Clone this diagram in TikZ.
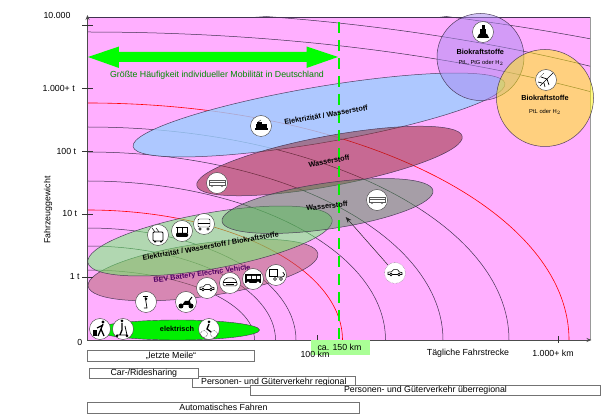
\documentclass[tikz,border=0pt]{standalone}
\usepackage{fontspec}
\setmainfont{Liberation Sans}
\usetikzlibrary{arrows.meta}
\definecolor{rosa}{RGB}{255,175,255}
\definecolor{bogen}{RGB}{65,50,80}
\definecolor{blaufl}{RGB}{154,207,255}
\definecolor{rotfl}{RGB}{145,37,41}
\definecolor{bevfl}{RGB}{177,97,105}
\definecolor{gruenfl}{RGB}{100,255,100}
\definecolor{grauffl}{RGB}{79,143,81}
\definecolor{lilafl}{RGB}{169,137,241}
\definecolor{knall}{RGB}{0,240,0}
\definecolor{schrift}{RGB}{0,140,0}
\definecolor{bevtext}{RGB}{80,0,100}
\definecolor{hellgr}{RGB}{170,255,150}
\tikzset{
  fl/.style={draw=bogen,line width=0.5pt,fill opacity=0.5,draw opacity=0.9},
  lab/.style={inner sep=0pt,font=\fontsize{8.8}{10}\selectfont},
  elab/.style={inner sep=0pt,font=\bfseries\fontsize{7.3}{8}\selectfont},
  klein/.style={inner sep=0pt,font=\fontsize{5.8}{7}\selectfont},
  stripe/.style={draw=black!55,fill=white,line width=0.8pt,inner sep=0pt,font=\fontsize{8.8}{10}\selectfont},
  icon/.style={circle,draw=black!75,fill=white,minimum size=21pt,inner sep=0pt,line width=0.4pt},
  pics/zug/.style={code={
    \fill (-6,-4) rectangle (7,-2.5); \fill (-5,-2.5) rectangle (6,1.5); \fill (-4,1.5) rectangle (1,4);
    \draw[line width=0.3pt] (-3,4) -- (0,6);}},
  pics/kasten/.style={code={
    \draw[black!65,line width=0.3pt] (-8,-2.5) rectangle (8,2.5); \draw[black!65,line width=0.3pt] (-8,0.5) -- (8,0.5);
    \draw[black!65,line width=0.3pt] (-5,-3) circle (0.9) (5,-3) circle (0.9);}},
  pics/trolley/.style={code={
    \draw[line width=0.8pt,rounded corners=1pt] (-5,-6) rectangle (5,3);
    \draw[line width=0.5pt] (-3,3) -- (-6,7) (1,3) -- (-2,7);
    \fill (-4,-7.5) rectangle (-2,-6) (2,-7.5) rectangle (4,-6);}},
  pics/tram/.style={code={
    \draw[line width=0.8pt] (-6,4) -- (6,4) (0,4) -- (0,-2);
    \fill[rounded corners=1pt] (-6,-6) rectangle (6,-2);
    \draw[line width=0.8pt] (-5,-2) -- (-5,4) (5,-2) -- (5,4);}},
  pics/front/.style={code={
    \draw[line width=0.4pt,rounded corners=1pt] (-6,-3) rectangle (6,5); \draw[line width=0.4pt] (-6,1) -- (6,1);
    \draw[line width=0.5pt] (-4,-5) circle (1.2) (4,-5) circle (1.2);}},
  pics/roller/.style={code={
    \draw[line width=0.7pt] (-1,6) -- (1,-6) -- (-2,-6); \fill (0,3) circle (1.5);
    \draw[line width=0.4pt] (-3,6) -- (2,6);}},
  pics/krad/.style={code={
    \fill (-5,-4) circle (2.5) (5,-4) circle (2.5);
    \fill (-4,-3) -- (-1,1) -- (4,1) -- (5,-3) -- cycle; \draw[line width=1pt] (3,1) -- (6,5);}},
  pics/auto/.style={code={
    \draw[line width=0.6pt,fill=white] (-7,-1.5) -- (-7,0.8) -- (-3.5,1.2) -- (-1.5,3.3) -- (2.5,3.3) -- (4.5,1) -- (7,0.3) -- (7,-1.5) -- cycle;
    \draw[line width=0.6pt,fill=white] (-4,-1.5) circle (1.4) (4,-1.5) circle (1.4);}},
  pics/carfront/.style={code={
    \draw[line width=0.5pt,rounded corners=1.5pt] (-7,-3) -- (-7,1) -- (-4,5) -- (4,5) -- (7,1) -- (7,-3) -- cycle;
    \draw[line width=0.5pt] (-7,1) -- (7,1) (-4,-1) -- (4,-1);}},
  pics/bus/.style={code={
    \fill (-8,-4) rectangle (8,5); \fill[white] (-6,0) rectangle (-2,3) (-1,0) rectangle (3,3) (4,0) rectangle (7,3);
    \fill[white] (-5,-4) circle (1.6) (5,-4) circle (1.6);}},
  pics/laster/.style={code={
    \draw[line width=0.5pt] (-7,-1) rectangle (1,6); \draw[line width=0.7pt] (1,-2) -- (6,-2) arc (-90:70:2.5);
    \draw[line width=0.5pt] (-1,-4) circle (1.5) (5,-4) circle (1.5);}},
  pics/geher/.style={code={
    \fill (3,7) circle (1.6); \draw[line width=1.3pt] (3,5) -- (1,0) -- (4,-7) (1,0) -- (-2,-7) (3,4) -- (-3,1);
    \fill (-7,-7) rectangle (-3,-1);}},
  pics/escooter/.style={code={
    \fill (-1,8) circle (1.5); \draw[line width=1.3pt] (-1,6) -- (-1,-1) -- (-3,-6);
    \draw[line width=0.8pt] (2,3) -- (4,-6) -- (-6,-6); \fill (-6,-7) circle (1.5) (4,-7) circle (1.5);}},
  pics/rad/.style={code={
    \fill (0,7) circle (1.5); \draw[line width=1.3pt] (0,5) -- (-2,0) -- (2,-3);
    \draw[line width=0.5pt,densely dotted] (-5,-5) circle (3.5) (5,-5) circle (3.5);}},
  pics/schiff/.style={code={
    \fill (-6,-6) -- (6,-6) -- (4,-2) -- (-4,-2) -- cycle; \fill (-3,-2) rectangle (3,3); \fill (-1.5,3) rectangle (1.5,7);}},
  pics/flieger/.style={code={
    \draw[line width=0.7pt] (-6,-6) -- (7,7) (-5,3) -- (1,1) -- (3,-5) (-8,-2) -- (-4,-3) (-1,-7) -- (-2,-3);
    \draw[line width=0.5pt,densely dotted] (-7,2) -- (-2,7);}},
}
\begin{document}
\begin{tikzpicture}[x=1pt,y=1pt]
  \useasboundingbox (-87.5,-75) rectangle (523.5,340);
  % Flaeche
  \fill[rosa] (0,0) rectangle (502.5,323);
  \draw[black!40,line width=0.8pt] (502.5,0) -- (502.5,323);
  \draw[bogen,line width=0.5pt] (0,323) -- (502.5,323);
  \begin{scope}
    \clip (0,0) rectangle (502.5,323);
    \foreach \ra/\rb in {167/70,188/94,208.5/112,298/159,355.5/188,421.5/213,850/308,900/330,1030/345}
      \draw[bogen,line width=0.5pt] (0,\rb) arc (90:0:\ra pt and \rb pt);
    \foreach \ra/\rb in {255/130,481.5/237}
      \draw[red,line width=0.6pt] (0,\rb) arc (90:0:\ra pt and \rb pt);
  \end{scope}
  % Ellipsen
  \draw[fl,fill=blaufl,fill opacity=0.8,rotate around={9.65:(231.5,225)}] (231.5,225) ellipse (188.6pt and 28pt);
  \draw[fl,fill=rotfl,rotate around={10.5:(242,179)}] (242,179) ellipse (135pt and 25pt);
  \draw[fl,fill=bevfl,rotate around={8:(115.5,70)}] (115.5,70) ellipse (116pt and 26.5pt);
  \draw[fl,fill=gruenfl,rotate around={10:(122.5,99)}] (122.5,99) ellipse (124pt and 28pt);
  \draw[fl,fill=grauffl,rotate around={8.3:(240,134)}] (240,134) ellipse (106.6pt and 23pt);
  \draw[bogen,line width=0.4pt,fill=knall] (90,10) ellipse (82pt and 10pt);
  \draw[fl,fill=lilafl] (393,283) circle (43.5pt);
  \draw[fl,fill=yellow] (457.5,242) circle (48.5pt);
  % Achsen
  \draw[black!70,line width=0.9pt,-{Stealth[length=5pt,width=4pt]}] (0,0) -- (0,325);
  \draw[black!70,line width=0.9pt,-{Stealth[length=5pt,width=4pt]}] (0,0) -- (504,0);
  \foreach \yy in {315,252,188.5,126,63}
    \draw[black!80,line width=0.5pt] (-5,\yy) -- (5.5,\yy);
  \draw[black!80,line width=0.5pt] (229.5,0) -- (229.5,5);
  \draw[black!80,line width=0.5pt] (470.5,-3) -- (470.5,4);
  % Pfeil
  \fill[green] (0.5,283) -- (31.5,293.5) -- (31.5,288) -- (219,288) -- (219,293.5) -- (250.5,283)
     -- (219,272) -- (219,278) -- (31.5,278) -- (31.5,272) -- cycle;
  \node[lab,text=schrift] (haeufig) at (129.5,265) {Größte Häufigkeit individueller Mobilität in Deutschland};
  % Beschriftung Achsen
  \node[lab] (t10000) at (-30.5,324.5) {10.000};
  \node[lab] (t1000) at (-28.8,251.7) {1.000+ t};
  \node[lab] (t100) at (-21.2,188.3) {100 t};
  \node[lab] (t10) at (-17.8,126.7) {10 t};
  \node[lab] (t1) at (-12.8,63) {1 t};
  \node[lab] (t0) at (-7.8,-2.7) {0};
  \node[lab,rotate=90] (gewicht) at (-39.5,130) {Fahrzeuggewicht};
  \fill[hellgr] (223.5,0) rectangle (282.5,-15);
  \node[lab] (km100) at (227.5,-14) {100 km};
  \node[lab] (km150) at (252,-7.7) {ca. 150 km};
  \node[lab] (strecke) at (380.5,-13.7) {Tägliche Fahrstrecke};
  \node[lab] (km1000) at (465.5,-13.7) {1.000+ km};
  % Streckenlinie
  \draw[knall,line width=1.6pt,dash pattern=on 11pt off 7pt] (251.5,318) -- (251.5,0);
  % Balken
  \node[stripe,minimum width=163.7pt,minimum height=10.3pt] (regional) at (186.35,-41.85) {Personen- und Güterverkehr regional};
  \node[stripe,minimum width=167.4pt,minimum height=11pt] (meile) at (83.5,-15.5) {„letzte Meile“};
  \node[stripe,minimum width=109.7pt,minimum height=10pt] (sharing) at (56.35,-33) {Car-/Ridesharing};
  \node[stripe,minimum width=350.4pt,minimum height=10pt] (ueber) at (338,-50) {Personen- und Güterverkehr überregional};
  \node[stripe,minimum width=272.4pt,minimum height=11pt] (auto) at (136,-67.5) {Automatisches Fahren};
  % Ellipsentexte
  \node[elab,rotate=10] at (238.5,225) {Elektrizität / Wasserstoff};
  \node[elab,rotate=10] at (241.5,179) {Wasserstoff};
  \node[elab,rotate=6] at (239.5,134) {Wasserstoff};
  \node[elab,rotate=10] at (123.2,94) {Elektrizität / Wasserstoff / Biokraftstoffe};
  \node[elab,rotate=7.7,text=bevtext] at (114.5,65.7) {BEV Battery Electric Vehicle};
  \node[elab] at (89.5,10.7) {elektrisch};
  \node[elab] at (392.8,288) {Biokraftstoffe};
  \node[klein] at (393.5,277.3) {PtL, PtG oder H$_2$};
  \node[elab] at (457.5,241.7) {Biokraftstoffe};
  \node[klein] at (457.5,228.3) {PtL oder H$_2$};
  % Symbole
  \node[icon] (zug) at (173.5,214) {}; \pic at (zug) {zug};
  \node[icon] (kasten) at (129.5,157) {}; \pic at (kasten) {kasten};
  \node[icon] (kastenb) at (289.5,140) {}; \pic at (kastenb) {kasten};
  \node[icon] (trolley) at (70.5,105) {}; \pic at (trolley) {trolley};
  \node[icon] (tram) at (94.5,109) {}; \pic at (tram) {tram};
  \node[icon] (front) at (116.5,116) {}; \pic at (front) {front};
  \node[icon] (roller) at (58.5,38) {}; \pic at (roller) {roller};
  \node[icon] (krad) at (98.5,38) {}; \pic at (krad) {krad};
  \node[icon] (pkw) at (119.5,52) {}; \pic at (pkw) {auto};
  \node[icon] (pkwf) at (142.5,57) {}; \pic at (pkwf) {carfront};
  \node[icon] (bus) at (165.5,61) {}; \pic at (bus) {bus};
  \node[icon] (laster) at (188.5,65) {}; \pic at (laster) {laster};
  \node[icon] (geher) at (12.5,11) {}; \pic at (geher) {geher};
  \node[icon] (scooter) at (35.5,11) {}; \pic at (scooter) {escooter};
  \node[icon] (rad) at (121.5,11) {}; \pic at (rad) {rad};
  \node[icon,draw=black!60,densely dotted] (wasserauto) at (307.5,67) {}; \pic at (wasserauto) {auto};
  \node[icon] (schiff) at (395.5,308) {}; \pic at (schiff) {schiff};
  \node[icon] (flieger) at (458.5,260) {}; \pic at (flieger) {flieger};
  \coordinate (spitze) at (258.2,123);
  \draw[black!85,line width=0.5pt,-{Stealth[length=6pt,width=4.5pt]}] (wasserauto) -- (spitze);
\end{tikzpicture}
\end{document}
